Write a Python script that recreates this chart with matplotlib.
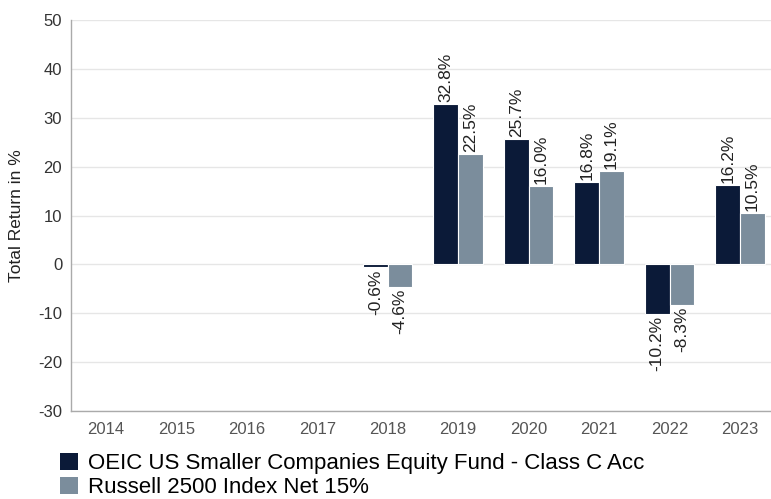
import matplotlib

matplotlib.use("Agg")
import matplotlib.pyplot as plt
import numpy as np
from matplotlib.patches import Patch

years = ["2014", "2015", "2016", "2017", "2018", "2019", "2020", "2021", "2022", "2023"]
fund = [None, None, None, None, -0.6, 32.8, 25.7, 16.8, -10.2, 16.2]
index = [None, None, None, None, -4.6, 22.5, 16.0, 19.1, -8.3, 10.5]
series_names = [
    "OEIC US Smaller Companies Equity Fund - Class C Acc",
    "Russell 2500 Index Net 15%",
]

FUND_COLOR = "#0b1a38"
INDEX_COLOR = "#7b8d9c"

plt.rcParams["font.family"] = ["Liberation Sans", "DejaVu Sans"]
plt.rcParams["axes.unicode_minus"] = False

fig = plt.figure(figsize=(7.71, 4.99), dpi=100)
ax = fig.add_axes([0.0915, 0.176, 0.914, 0.784])

x = np.arange(len(years))
w = 0.35

for vals, off, color in [(fund, -w / 2, FUND_COLOR), (index, w / 2, INDEX_COLOR)]:
    for xi, v in zip(x, vals):
        if v is None:
            continue
        ax.bar(xi + off, v, width=w, color=color, edgecolor="white", linewidth=0.8, zorder=3)
        label = f"{v:.1f}%"
        if v >= 0:
            ax.text(xi + off, v + 0.4, label, rotation=90, ha="center", va="bottom",
                    fontsize=12.5, color="#222222")
        else:
            ax.text(xi + off, v - 0.4, label, rotation=90, ha="center", va="top",
                    fontsize=12.5, color="#222222")

ax.set_xlim(-0.5, len(years) - 0.5)
ax.set_ylim(-30, 50)
ax.set_yticks(range(-30, 51, 10))
ax.set_xticks(x)
ax.set_xticklabels(years)
ax.tick_params(axis="both", length=0, labelsize=12)
ax.tick_params(axis="x", colors="#555555", pad=8)
ax.tick_params(axis="y", colors="#333333", pad=6)
ax.grid(axis="y", color="#e6e6e6", linewidth=1, zorder=0)
for side in ["top", "right"]:
    ax.spines[side].set_visible(False)
for side in ["left", "bottom"]:
    ax.spines[side].set_color("#aaaaaa")
    ax.spines[side].set_linewidth(1)
ax.set_ylabel("Total Return in %", fontsize=12.5, color="#222222", labelpad=10)

handles = [Patch(facecolor=FUND_COLOR), Patch(facecolor=INDEX_COLOR)]
fig.legend(handles, series_names, loc="lower left", bbox_to_anchor=(0.078, 0.002),
           frameon=False, fontsize=16, handlelength=0.8, handleheight=0.8,
           handletextpad=0.45, labelspacing=0.12, borderpad=0, borderaxespad=0)

fig.savefig("out.png", dpi=100)
